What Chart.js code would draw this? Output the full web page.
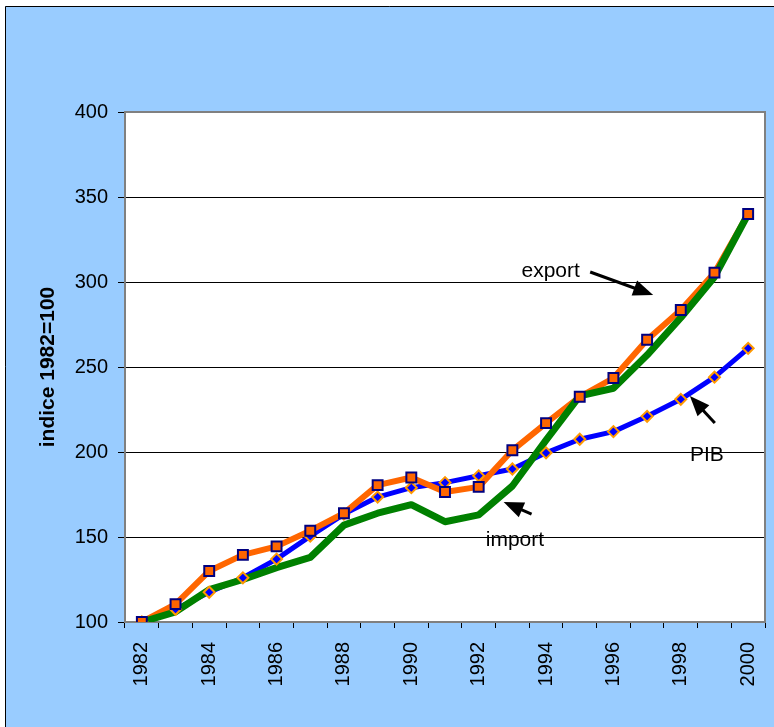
<!DOCTYPE html>
<html>
<head>
<meta charset="utf-8">
<script src="https://cdn.jsdelivr.net/npm/chart.js@4/dist/chart.umd.min.js"></script>
<style>
  html, body { margin: 0; padding: 0; background: #fff; }
  canvas { display: block; }
</style>
</head>
<body>
<canvas id="c" width="774" height="727"></canvas>
<script>
// ---- data ----
const years = ['1982','1983','1984','1985','1986','1987','1988','1989','1990','1991','1992','1993','1994','1995','1996','1997','1998','1999','2000'];
const exportValues = [100, 110.5, 130, 139.5, 144.5, 153.7, 164, 180.5, 185, 176.5, 179.5, 201, 217, 232.5, 243.5, 266, 283.5, 305.5, 340];
const pibValues    = [100, 107.5, 117.5, 126, 137, 150.5, 163.5, 173.5, 179, 182, 186, 190, 199.5, 207.5, 212, 221, 231, 244, 261];
const importValues = [100, 106, 119, 125, 132, 138, 157, 164, 169, 159, 163, 180, 207, 233, 237.5, 257, 279, 303, 340];
const yTicks = [100, 150, 200, 250, 300, 350, 400];
const yTitle = 'indice 1982=100';
// annotations: label position and arrow (tail -> tip) in data space (category index, value)
const annotations = [
  { text: 'export', tx: 11.27, ty: 303,   x1: 13.31, y1: 305.9, x2: 15.18, y2: 292.4 },
  { text: 'PIB',    tx: 16.27, ty: 194.7, x1: 17.01, y1: 217,   x2: 16.27, y2: 232.9 },
  { text: 'import', tx: 10.21, ty: 144.7, x1: 11.57, y1: 163.5, x2: 10.74, y2: 170.6 }
];

const FONT = "'Liberation Sans', Arial, sans-serif";

const bgPlugin = {
  id: 'bg',
  beforeDraw(chart) {
    const ctx = chart.ctx, a = chart.chartArea;
    ctx.save();
    ctx.fillStyle = '#ffffff';
    ctx.fillRect(0, 0, chart.width, chart.height);
    ctx.fillStyle = '#99CCFF';
    ctx.fillRect(5, 6, chart.width - 5, chart.height - 6);
    ctx.strokeStyle = '#000';
    ctx.lineWidth = 1;
    ctx.beginPath();
    ctx.moveTo(5.5, chart.height);
    ctx.lineTo(5.5, 6.5);
    ctx.lineTo(chart.width, 6.5);
    ctx.stroke();
    ctx.fillStyle = '#ffffff';
    ctx.fillRect(a.left, a.top, a.right - a.left, a.bottom - a.top);
    ctx.restore();
  },
  beforeDatasetsDraw(chart) {
    const ctx = chart.ctx, a = chart.chartArea;
    ctx.save();
    ctx.strokeStyle = '#808080';
    ctx.lineWidth = 2;
    ctx.strokeRect(a.left, a.top, a.right - a.left, a.bottom - a.top);
    ctx.restore();
  },
  afterDraw(chart) {
    const ctx = chart.ctx, xs = chart.scales.x, ys = chart.scales.y;
    ctx.save();
    ctx.font = '21px ' + FONT;
    ctx.fillStyle = '#000';
    ctx.strokeStyle = '#000';
    ctx.textAlign = 'left';
    ctx.textBaseline = 'alphabetic';
    annotations.forEach(an => {
      ctx.fillText(an.text, xs.getPixelForValue(an.tx), ys.getPixelForValue(an.ty));
      const x1 = xs.getPixelForValue(an.x1), y1 = ys.getPixelForValue(an.y1);
      const x2 = xs.getPixelForValue(an.x2), y2 = ys.getPixelForValue(an.y2);
      const ang = Math.atan2(y2 - y1, x2 - x1);
      const hl = 20, hw = 8;
      const bx = x2 - hl * Math.cos(ang), by = y2 - hl * Math.sin(ang);
      ctx.lineWidth = 3;
      ctx.beginPath();
      ctx.moveTo(x1, y1);
      ctx.lineTo(bx + 2 * Math.cos(ang), by + 2 * Math.sin(ang));
      ctx.stroke();
      ctx.beginPath();
      ctx.moveTo(x2, y2);
      ctx.lineTo(bx + hw * Math.sin(ang), by - hw * Math.cos(ang));
      ctx.lineTo(bx - hw * Math.sin(ang), by + hw * Math.cos(ang));
      ctx.closePath();
      ctx.fill();
    });
    ctx.restore();
  }
};

new Chart(document.getElementById('c'), {
  type: 'line',
  data: {
    labels: years,
    datasets: [
      { label: 'export', data: exportValues, showLine: false, pointStyle: 'rect', pointRadius: 7, pointBorderWidth: 2,
        pointBackgroundColor: '#FF6600', pointBorderColor: '#000080', borderColor: '#FF6600' },
      { label: 'PIB', data: pibValues, showLine: false, pointStyle: 'rectRot', pointRadius: 5.5, pointBorderWidth: 2,
        pointBackgroundColor: '#0000FF', pointBorderColor: '#FF9900', borderColor: '#0000FF' },
      { label: 'import', data: importValues, borderColor: '#008000', borderWidth: 7, pointRadius: 0, tension: 0,
        borderJoinStyle: 'round', borderCapStyle: 'round' },
      { label: 'export line', data: exportValues, borderColor: '#FF6600', borderWidth: 6, pointRadius: 0, tension: 0,
        borderJoinStyle: 'round' },
      { label: 'PIB line', data: pibValues, borderColor: '#0000FF', borderWidth: 5, pointRadius: 0, tension: 0,
        borderJoinStyle: 'round' }
    ]
  },
  options: {
    responsive: false,
    animation: false,
    devicePixelRatio: 1,
    layout: { padding: { top: 112, right: 7, left: 0, bottom: 0 } },
    plugins: { legend: { display: false }, tooltip: { enabled: false } },
    scales: {
      x: {
        type: 'category',
        offset: true,
        grid: { display: true, drawOnChartArea: false, drawTicks: true, tickLength: 6, offset: true, color: '#000' },
        border: { display: false },
        ticks: { minRotation: 90, maxRotation: 90, autoSkip: false, color: '#000', padding: 14,
                 font: { family: FONT, size: 20 },
                 callback: function(v, i) { return i % 2 === 0 ? years[i] : ''; } },
        afterFit(scale) { scale.height = 105; scale.paddingLeft = 0; scale.paddingRight = 0; }
      },
      y: {
        min: 100, max: 400,
        afterBuildTicks(scale) { scale.ticks = yTicks.map(v => ({ value: v })); },
        grid: { color: '#000', lineWidth: 1, tickLength: 7, drawTicks: true },
        border: { display: false },
        ticks: { color: '#000', padding: 10, font: { family: FONT, size: 20 } },
        title: { display: true, text: yTitle, color: '#000', padding: { top: 36, bottom: 0 },
                 font: { family: FONT, size: 21, weight: 'bold' } },
        afterFit(scale) { scale.width = 125; scale.paddingTop = 0; scale.paddingBottom = 0; }
      }
    }
  },
  plugins: [bgPlugin]
});
</script>
</body>
</html>
